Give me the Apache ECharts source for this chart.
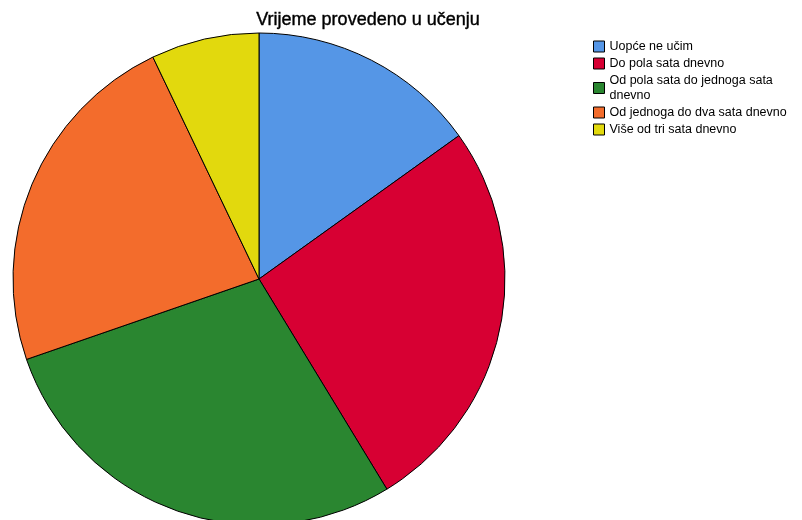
<!DOCTYPE html>
<html>
<head>
<meta charset="utf-8">
<script src="https://cdn.jsdelivr.net/npm/echarts@6/dist/echarts.min.js"></script>
<style>
  html, body { margin: 0; padding: 0; background: #fff; }
  #pie { width: 802px; height: 520px; }
</style>
</head>
<body>
<div id="pie"></div>
<script>
// kategorije i postoci
const categories = [
  'Uopće ne učim',
  'Do pola sata dnevno',
  'Od pola sata do jednoga sata\ndnevno',
  'Od jednoga do dva sata dnevno',
  'Više od tri sata dnevno'
];
const values = [15.1, 26.2, 28.4, 23.2, 7.1];
const colors = ['#5596e6', '#d70033', '#2a8630', '#f36c2c', '#e2d90d'];

const myChart = echarts.init(document.getElementById('pie'));

let pieOptions = {
  animation: false,
  title: {
    text: 'Vrijeme provedeno u učenju',
    left: 368,
    textAlign: 'center',
    top: 11,
    padding: 0,
    textStyle: {
      fontFamily: 'Liberation Sans',
      fontSize: 18,
      fontWeight: 'normal',
      color: '#000',
      textBorderColor: '#000',
      textBorderWidth: 0.4
    }
  },
  legend: {
    orient: 'vertical',
    left: 593,
    top: 39,
    padding: 0,
    icon: 'rect',
    itemWidth: 11,
    itemHeight: 11,
    itemGap: 2,
    textStyle: {
      fontFamily: 'Liberation Sans',
      fontSize: 12.5,
      lineHeight: 15,
      color: '#000'
    },
    itemStyle: { borderColor: '#000', borderWidth: 1 },
    data: categories
  },
  series: [
    {
      name: 'Vrijeme',
      type: 'pie',
      center: [259, 279],
      radius: 246,
      startAngle: 90,
      clockwise: true,
      label: { show: false },
      labelLine: { show: false },
      itemStyle: { borderColor: '#000', borderWidth: 1 },
      emphasis: { disabled: true },
      data: categories.map((name, i) => ({
        name: name,
        value: values[i],
        itemStyle: { color: colors[i] }
      }))
    }
  ]
};

myChart.setOption(pieOptions);
</script>
</body>
</html>
